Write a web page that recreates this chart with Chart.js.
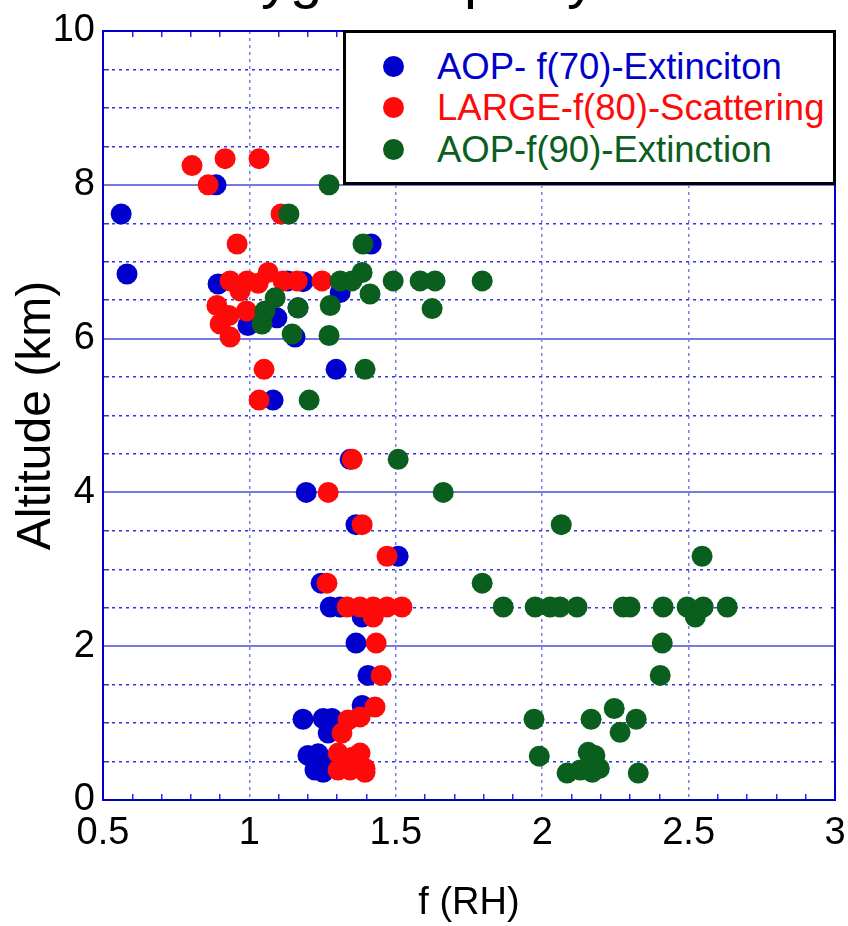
<!DOCTYPE html>
<html>
<head>
<meta charset="utf-8">
<script src="https://cdn.jsdelivr.net/npm/chart.js@4"></script>
<style>
  body { margin: 0; background: #fff; }
  #wrap { position: relative; width: 848px; height: 926px; overflow: hidden; }
  #fRhChart { position: absolute; left: 0; top: 0; }
  .title {
    position: absolute; left: 219px; top: -52px;
    font: 58px/58px 'Liberation Sans', Arial, sans-serif; color: #000;
    white-space: nowrap;
  }
  .legend {
    position: absolute; left: 343px; top: 30px; width: 493px; height: 155px;
    box-sizing: border-box; border: 3px solid #000; background: #fff;
    font: 36.5px 'Liberation Sans', Arial, sans-serif;
  }
  .legend .row { position: absolute; left: 0; height: 42px; line-height: 42px; white-space: nowrap; }
  .legend .dot {
    position: absolute; left: 37px; top: 10px; width: 21px; height: 21px; border-radius: 50%;
  }
  .legend .label { position: absolute; left: 91px; top: 0; }
</style>
</head>
<body>
<div id="wrap">
  <canvas id="fRhChart" width="848" height="926"></canvas>
  <div class="title">Hygroscopicity</div>
  <div class="legend" id="legend"></div>
</div>
<script>
// f(RH) per altitude
const aopF70X = [0.886, 0.562, 1.416, 0.582, 0.893, 1.183, 1.13, 1.31, 0.995, 1.094, 1.156, 1.166, 1.04, 1.296, 1.081, 1.344, 1.194, 1.364, 1.508, 1.245, 1.276, 1.31, 1.385, 1.364, 1.405, 1.385, 1.183, 1.252, 1.282, 1.269, 1.2, 1.235, 1.224, 1.252, 1.27, 1.3]
const aopF70Y = [8.0, 7.62, 7.23, 6.84, 6.71, 6.74, 6.75, 6.6, 6.17, 6.27, 6.02, 6.4, 6.3, 5.6, 5.2, 4.43, 4.0, 3.58, 3.17, 2.82, 2.51, 2.51, 2.38, 2.04, 1.62, 1.23, 1.05, 1.06, 1.06, 0.87, 0.58, 0.6, 0.39, 0.36, 0.45, 0.4]

const largeF80X = [0.804, 0.917, 1.033, 0.859, 1.108, 0.958, 0.934, 0.992, 1.064, 1.115, 1.163, 1.248, 1.03, 0.968, 0.889, 0.99, 0.9, 0.934, 0.93, 1.05, 1.033, 1.351, 1.269, 1.385, 1.47, 1.265, 1.334, 1.378, 1.423, 1.47, 1.521, 1.423, 1.433, 1.45, 1.429, 1.378, 1.337, 1.316, 1.303, 1.378, 1.354, 1.303, 1.344, 1.395, 1.395]
const largeF80Y = [8.25, 8.34, 8.34, 8.0, 7.62, 7.23, 6.75, 6.75, 6.86, 6.75, 6.75, 6.75, 6.72, 6.62, 6.43, 6.36, 6.19, 6.02, 6.3, 5.6, 5.2, 4.43, 4.0, 3.58, 3.17, 2.82, 2.51, 2.51, 2.51, 2.51, 2.51, 2.38, 2.04, 1.62, 1.21, 1.08, 1.04, 0.87, 0.61, 0.61, 0.56, 0.39, 0.39, 0.41, 0.36]

const aopF90X = [1.272, 1.135, 1.388, 1.31, 1.385, 1.412, 1.491, 1.583, 1.634, 1.624, 1.795, 1.35, 1.043, 1.053, 1.088, 1.166, 1.146, 1.276, 1.272, 1.395, 1.204, 1.508, 1.662, 2.065, 2.546, 1.795, 1.867, 1.976, 2.027, 2.061, 2.119, 2.277, 2.3, 2.413, 2.495, 2.55, 2.632, 2.523, 2.41, 2.403, 1.972, 2.167, 2.246, 2.266, 2.321, 1.99, 2.157, 2.18, 2.085, 2.13, 2.171, 2.195, 2.328]
const aopF90Y = [8.0, 7.62, 7.23, 6.75, 6.86, 6.58, 6.75, 6.75, 6.75, 6.39, 6.75, 6.75, 6.19, 6.36, 6.53, 6.4, 6.06, 6.43, 6.04, 5.6, 5.2, 4.43, 4.0, 3.58, 3.17, 2.82, 2.51, 2.51, 2.51, 2.51, 2.51, 2.51, 2.51, 2.51, 2.51, 2.51, 2.51, 2.38, 2.04, 1.62, 1.05, 1.05, 1.19, 0.88, 1.05, 0.57, 0.62, 0.58, 0.35, 0.39, 0.36, 0.41, 0.35]

const seriesNames = ['AOP- f(70)-Extinciton', 'LARGE-f(80)-Scattering', 'AOP-f(90)-Extinction']
const seriesColors = ['#0000cc', '#ff0a0a', '#0a5e1e']

const xMin = 0.5
const xMax = 3
const yMin = 0
const yMax = 10

const fontFamily = "'Liberation Sans', Arial, sans-serif"
const axisBlue = '#0000cc'

function toPoints(xs, ys) {
  return xs.map((x, i) => ({ x: x, y: ys[i] }))
}

function isMultiple(v, step) {
  const r = v / step
  return Math.abs(r - Math.round(r)) < 1e-6
}

function isEdge(v, lo, hi) {
  return Math.abs(v - lo) < 1e-6 || Math.abs(v - hi) < 1e-6
}

// dotted line with short solid ends (inward ticks on both sides)
function dottedWithEnds(len) {
  const d = [5, 3]
  let pos = 8
  while (pos + 7 <= len - 5) {
    d.push(3, 4)
    pos += 7
  }
  d.push(0, len - 5 - pos, 5, 2000)
  return d
}

function buildLegend() {
  const legend = document.getElementById('legend')
  const tops = [13, 54, 96]
  seriesNames.forEach((name, i) => {
    const row = document.createElement('div')
    row.className = 'row'
    row.style.top = tops[i] + 'px'
    row.innerHTML =
      '<span class="dot" style="background:' + seriesColors[i] + '"></span>' +
      '<span class="label" style="color:' + seriesColors[i] + '">' + name + '</span>'
    legend.appendChild(row)
  })
}

function renderChart() {
  const ctx = document.getElementById('fRhChart').getContext('2d')
  const pointSets = [
    toPoints(aopF70X, aopF70Y),
    toPoints(largeF80X, largeF80Y),
    toPoints(aopF90X, aopF90Y)
  ]

  new Chart(ctx, {
    type: 'scatter',
    data: {
      datasets: pointSets.map((pts, i) => ({
        label: seriesNames[i],
        data: pts,
        xAxisID: 'x',
        yAxisID: 'y',
        backgroundColor: seriesColors[i],
        borderWidth: 0,
        pointRadius: 10.5,
        pointHoverRadius: 10.5,
        order: 3 - i // green drawn on top
      }))
    },
    options: {
      responsive: false,
      animation: false,
      layout: { padding: { top: 31, right: 13, left: 0, bottom: 0 } },
      plugins: {
        legend: { display: false },
        tooltip: { enabled: false }
      },
      scales: {
        x: {
          type: 'linear',
          position: 'bottom',
          min: xMin,
          max: xMax,
          afterFit: (s) => {
            s.height = 126
            s.paddingLeft = 0
            s.paddingRight = 0
          },
          ticks: {
            stepSize: 0.1,
            autoSkip: false,
            maxRotation: 0,
            padding: 11,
            color: '#000',
            font: { family: fontFamily, size: 38 },
            callback: (v) => (isMultiple(v, 0.5) ? String(Math.round(v * 10) / 10) : '')
          },
          grid: {
            drawTicks: false,
            lineWidth: 1.5,
            color: (c) => {
              if (!c.tick || isEdge(c.tick.value, xMin, xMax)) return 'transparent'
              return isMultiple(c.tick.value, 0.5) ? '#7c7ce6' : '#2a2ad8'
            }
          },
          border: {
            color: axisBlue,
            width: 2,
            dash: (c) => {
              if (!c.tick) return []
              if (isMultiple(c.tick.value, 0.5)) return [3, 4]
              const area = c.chart.chartArea
              const h = area ? area.bottom - area.top : 770
              return [6, h - 12, 6, 2000]
            }
          },
          title: {
            display: true,
            text: 'f (RH)',
            color: '#000',
            font: { family: fontFamily, size: 38 },
            padding: { top: 0, bottom: 0 }
          }
        },
        y: {
          type: 'linear',
          position: 'left',
          min: yMin,
          max: yMax,
          afterFit: (s) => { s.width = 103 },
          ticks: {
            stepSize: 0.5,
            autoSkip: false,
            padding: 8,
            color: '#000',
            font: { family: fontFamily, size: 38 },
            callback: (v) => (isMultiple(v, 2) ? String(v) : '')
          },
          grid: {
            drawTicks: false,
            lineWidth: (c) => (c.tick && isMultiple(c.tick.value, 2) ? 2 : 1.5),
            color: (c) => {
              if (!c.tick || isEdge(c.tick.value, yMin, yMax)) return 'transparent'
              return isMultiple(c.tick.value, 2) ? '#7878e4' : '#3434e0'
            }
          },
          border: {
            color: axisBlue,
            width: 2,
            dash: (c) => {
              if (!c.tick || isMultiple(c.tick.value, 2)) return []
              const area = c.chart.chartArea
              const w = area ? area.right - area.left : 732
              return dottedWithEnds(w)
            }
          },
          title: {
            display: true,
            text: 'Altitude (km)',
            color: '#000',
            font: { family: fontFamily, size: 48 },
            padding: { top: 8, bottom: 0 }
          }
        },
        xTop: {
          type: 'linear',
          position: 'top',
          min: xMin,
          max: xMax,
          afterFit: (s) => { s.height = 0 },
          ticks: { display: false },
          grid: { drawOnChartArea: false, drawTicks: false },
          border: { color: axisBlue, width: 2 }
        },
        yRight: {
          type: 'linear',
          position: 'right',
          min: yMin,
          max: yMax,
          afterFit: (s) => { s.width = 0 },
          ticks: { display: false },
          grid: { drawOnChartArea: false, drawTicks: false },
          border: { color: axisBlue, width: 2 }
        }
      }
    }
  })
}

buildLegend()
renderChart()
</script>
</body>
</html>
